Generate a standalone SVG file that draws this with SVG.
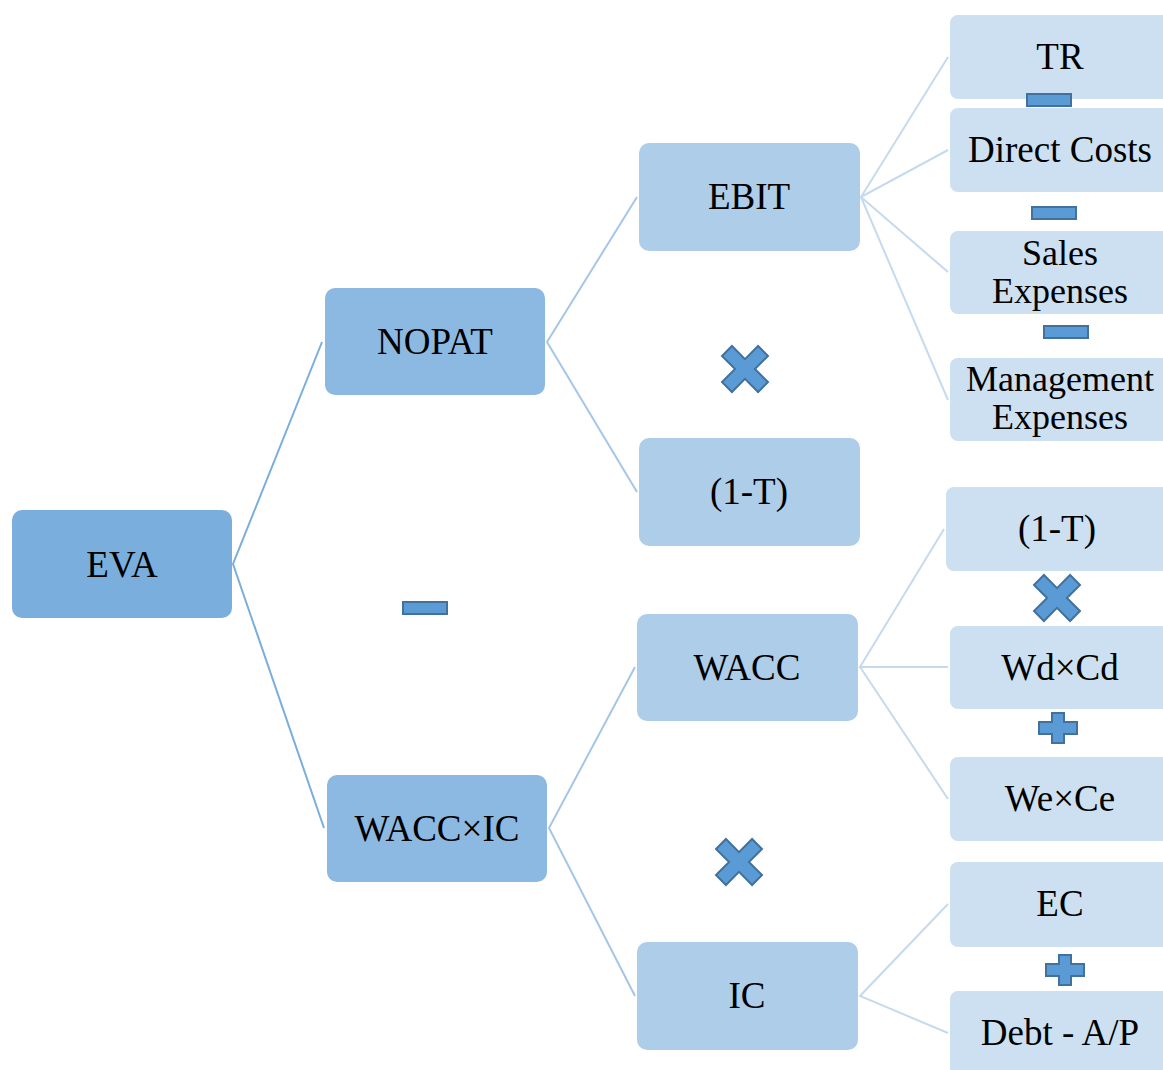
<svg xmlns="http://www.w3.org/2000/svg" width="1163" height="1070" viewBox="0 0 1163 1070">
  <defs>
    <style>
      .t { font-family: "Liberation Serif", "Times New Roman", serif; font-size: 37px; fill: #000; text-anchor: middle; }
      .t2 { font-size: 36px; }
      .l1 { fill: #7aaedc; }
      .l2 { fill: #8cb9e2; }
      .l3 { fill: #aecde9; }
      .l4 { fill: #cde0f1; }
      .op { fill: #5b9bd5; stroke: #41719c; stroke-width: 2; stroke-linejoin: miter; }
      .c1 { stroke: #7aaedc; stroke-width: 2; fill: none; }
      .c2 { stroke: #a6c6e7; stroke-width: 2; fill: none; }
      .c3 { stroke: #c6daef; stroke-width: 2; fill: none; }
    </style>
    <!-- operator glyph shapes, centred on the origin -->
    <polygon id="times" points="-7,-25.5 7,-25.5 7,-7 25.5,-7 25.5,7 7,7 7,25.5 -7,25.5 -7,7 -25.5,7 -25.5,-7 -7,-7" transform="rotate(45)"/>
    <polygon id="plus" points="-6,-15 6,-15 6,-6 19,-6 19,6 6,6 6,15 -6,15 -6,6 -19,6 -19,-6 -6,-6"/>
    <rect id="minus" x="-22" y="-6" width="44" height="12"/>
  </defs>

  <g id="connectors">
    <polyline class="c1" points="322,342 233,564 324,828"/>
    <polyline class="c2" points="637,197 547,342 637,492"/>
    <polyline class="c2" points="635,667 549,828 635,996"/>
    <path class="c3" d="M948,57 L861,197 L948,150 M861,197 L948,272 M861,197 L948,400"/>
    <path class="c3" d="M944,529 L860,667 L948,667 M860,667 L948,799"/>
    <path class="c3" d="M948,904 L860,996 L948,1033"/>
  </g>

  <g id="node-eva">
    <rect class="l1" x="12" y="510" width="220" height="108" rx="10"/>
    <text class="t" x="122" y="577">EVA</text>
  </g>
  <g id="node-nopat">
    <rect class="l2" x="325" y="288" width="220" height="107" rx="10"/>
    <text class="t" x="435" y="354">NOPAT</text>
  </g>
  <g id="node-wacc-ic">
    <rect class="l2" x="327" y="775" width="220" height="107" rx="10"/>
    <text class="t" x="437" y="841">WACC×IC</text>
  </g>
  <g id="node-ebit">
    <rect class="l3" x="639" y="143" width="221" height="108" rx="10"/>
    <text class="t" x="749" y="209">EBIT</text>
  </g>
  <g id="node-one-minus-t">
    <rect class="l3" x="639" y="438" width="221" height="108" rx="10"/>
    <text class="t" x="749" y="504">(1-T)</text>
  </g>
  <g id="node-wacc">
    <rect class="l3" x="637" y="614" width="221" height="107" rx="10"/>
    <text class="t" x="747" y="680">WACC</text>
  </g>
  <g id="node-ic">
    <rect class="l3" x="637" y="942" width="221" height="108" rx="10"/>
    <text class="t" x="747" y="1008">IC</text>
  </g>

  <g id="node-tr">
    <rect class="l4" x="950" y="15" width="220" height="84" rx="8"/>
    <text class="t" x="1060" y="69">TR</text>
  </g>
  <g id="node-direct-costs">
    <rect class="l4" x="950" y="108" width="220" height="84" rx="8"/>
    <text class="t" x="1060" y="162">Direct Costs</text>
  </g>
  <g id="node-sales-expenses">
    <rect class="l4" x="950" y="231" width="220" height="83" rx="8"/>
    <text class="t t2" x="1060" y="265">Sales</text>
    <text class="t t2" x="1060" y="303">Expenses</text>
  </g>
  <g id="node-management-expenses">
    <rect class="l4" x="950" y="358" width="220" height="83" rx="8"/>
    <text class="t t2" x="1060" y="391">Management</text>
    <text class="t t2" x="1060" y="429">Expenses</text>
  </g>
  <g id="node-tax-factor">
    <rect class="l4" x="946" y="487" width="224" height="84" rx="8"/>
    <text class="t" x="1057" y="541">(1-T)</text>
  </g>
  <g id="node-wd-cd">
    <rect class="l4" x="950" y="626" width="220" height="83" rx="8"/>
    <text class="t" x="1060" y="680">Wd×Cd</text>
  </g>
  <g id="node-we-ce">
    <rect class="l4" x="950" y="757" width="220" height="84" rx="8"/>
    <text class="t" x="1060" y="811">We×Ce</text>
  </g>
  <g id="node-ec">
    <rect class="l4" x="950" y="862" width="220" height="85" rx="8"/>
    <text class="t" x="1060" y="916">EC</text>
  </g>
  <g id="node-debt">
    <rect class="l4" x="950" y="991" width="220" height="90" rx="8"/>
    <text class="t" x="1060" y="1045">Debt - A/P</text>
  </g>

  <g id="operators">
    <use href="#minus" class="op" x="1049" y="100"/>
    <use href="#minus" class="op" x="1054" y="213"/>
    <use href="#minus" class="op" x="1066" y="332"/>
    <use href="#minus" class="op" x="425" y="608"/>
    <use href="#times" class="op" x="745" y="369"/>
    <use href="#times" class="op" x="1057" y="598"/>
    <use href="#times" class="op" x="739" y="862"/>
    <use href="#plus" class="op" x="1058" y="728"/>
    <use href="#plus" class="op" x="1065" y="970"/>
  </g>
</svg>
